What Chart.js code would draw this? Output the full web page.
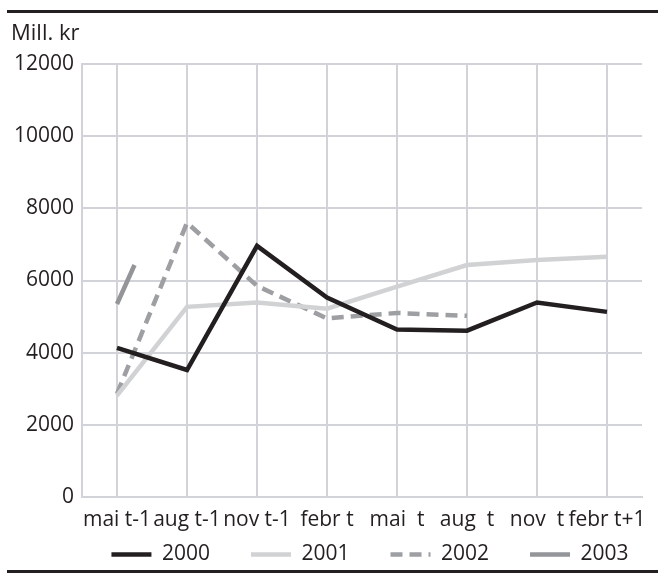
<!DOCTYPE html>
<html>
<head>
<meta charset="utf-8">
<script src="https://cdn.jsdelivr.net/npm/chart.js@4"></script>
<style>
  html, body { margin: 0; padding: 0; background: #ffffff; }
  #wrap { position: relative; width: 658px; height: 574px; overflow: hidden; }
  #rule-top { position: absolute; left: 7px; right: 0; top: 10px; height: 3px; background: #231f20; }
  #rule-bottom { position: absolute; left: 7px; right: 0; top: 570px; height: 3px; background: #231f20; }
  #unit { position: absolute; left: 11px; top: 16px; font: 22px "Open Sans", sans-serif; color: #231f20; }
  canvas { position: absolute; left: 0; top: 0; }
</style>
</head>
<body>
<div id="wrap">
  <canvas id="c" width="658" height="574"></canvas>
  <div id="rule-top"></div>
  <div id="rule-bottom"></div>
  <div id="unit">Mill. kr</div>
</div>
<script>
// ---- data ----
const categories = ["mai t-1", "aug t-1", "nov t-1", "febr t", "mai  t", "aug  t", "nov  t", "febr t+1"];
const seriesNames = ["2000", "2001", "2002", "2003"];
const values2000 = [4130, 3520, 6960, 5530, 4640, 4610, 5390, 5130];
const values2001 = [2810, 5270, 5390, 5220, 5830, 6430, 6570, 6660];
const values2002 = [2860, 7600, 5850, 4950, 5100, 5020, null, null];
// 2003 is only a short stub starting at "mai t-1" (x given in category-index units)
const positions2003 = [0, 0.25];
const values2003 = [5350, 6430];
const yTicks = [0, 2000, 4000, 6000, 8000, 10000, 12000];

const FONT = '"Open Sans", sans-serif';
const TEXT = '#231f20';
const GRID = '#d1d3d8';

// move the legend block into the position used by the reference
const LEGEND_DX = 49;
const LEGEND_DY = 30;
const legendPlacement = {
  id: 'legendPlacement',
  afterLayout(chart) {
    const lg = chart.legend;
    if (!lg) return;
    lg.left += LEGEND_DX;
    lg.right += LEGEND_DX;
    lg.width = lg.right - lg.left;
    lg.top -= LEGEND_DY;
    lg.bottom = chart.height;
    lg.height = lg.bottom - lg.top;
  }
};

const ds2003 = positions2003.map((x, i) => ({ x: x, y: values2003[i] }));

new Chart(document.getElementById('c'), {
  type: 'line',
  data: {
    labels: categories,
    datasets: [
      { label: seriesNames[0], data: values2000, borderColor: '#231f20', backgroundColor: '#231f20',
        borderWidth: 4.5, pointRadius: 0, pointStyle: 'line', tension: 0 },
      { label: seriesNames[1], data: values2001, borderColor: '#d1d2d4', backgroundColor: '#d1d2d4',
        borderWidth: 4.5, pointRadius: 0, pointStyle: 'line', tension: 0 },
      { label: seriesNames[2], data: values2002, borderColor: '#9d9fa2', backgroundColor: '#9d9fa2',
        borderWidth: 4.5, borderDash: [12, 7], pointRadius: 0, pointStyle: 'line', tension: 0, spanGaps: false },
      { label: seriesNames[3], data: ds2003, xAxisID: 'x2', borderColor: '#939598', backgroundColor: '#939598',
        borderWidth: 4.5, pointRadius: 0, pointStyle: 'line', tension: 0 }
    ]
  },
  plugins: [legendPlacement],
  options: {
    responsive: false,
    animation: false,
    devicePixelRatio: 1,
    layout: { padding: { left: 0, right: 16, top: 64, bottom: 0 } },
    plugins: {
      title: { display: false },
      tooltip: { enabled: false },
      legend: {
        position: 'bottom',
        align: 'center',
        maxHeight: 41,
        labels: {
          usePointStyle: true,
          pointStyleWidth: 40,
          boxWidth: 40,
          padding: 41,
          color: TEXT,
          font: { family: FONT, size: 21 },
          generateLabels: (chart) => {
            const items = Chart.defaults.plugins.legend.labels.generateLabels(chart);
            items.forEach((it) => {
              const d = chart.data.datasets[it.datasetIndex];
              it.lineDash = d.borderDash || [];
              it.lineWidth = d.borderWidth;
              it.strokeStyle = d.borderColor;
              it.fillStyle = d.borderColor;
              it.pointStyle = 'line';
            });
            return items;
          }
        }
      }
    },
    scales: {
      x: {
        type: 'category',
        offset: true,
        grid: { display: true, offset: false, color: GRID, lineWidth: 2, drawTicks: false },
        border: { display: true, color: GRID, width: 2 },
        ticks: { color: TEXT, font: { family: FONT, size: 21 }, padding: 10, maxRotation: 0, autoSkip: false },
        afterFit: (s) => { s.height = 36; }
      },
      x2: {
        type: 'linear',
        display: false,
        min: -0.5,
        max: 7.5
      },
      y: {
        type: 'linear',
        min: 0,
        max: 12000,
        afterBuildTicks: (s) => { s.ticks = yTicks.map(v => ({ value: v })); },
        grid: { color: GRID, lineWidth: 2, drawTicks: false },
        border: { display: true, color: GRID, width: 2 },
        ticks: { color: TEXT, font: { family: FONT, size: 21 }, padding: 8, callback: (v) => String(v) },
        afterFit: (s) => { s.width = 82; }
      }
    }
  }
});
</script>
</body>
</html>
